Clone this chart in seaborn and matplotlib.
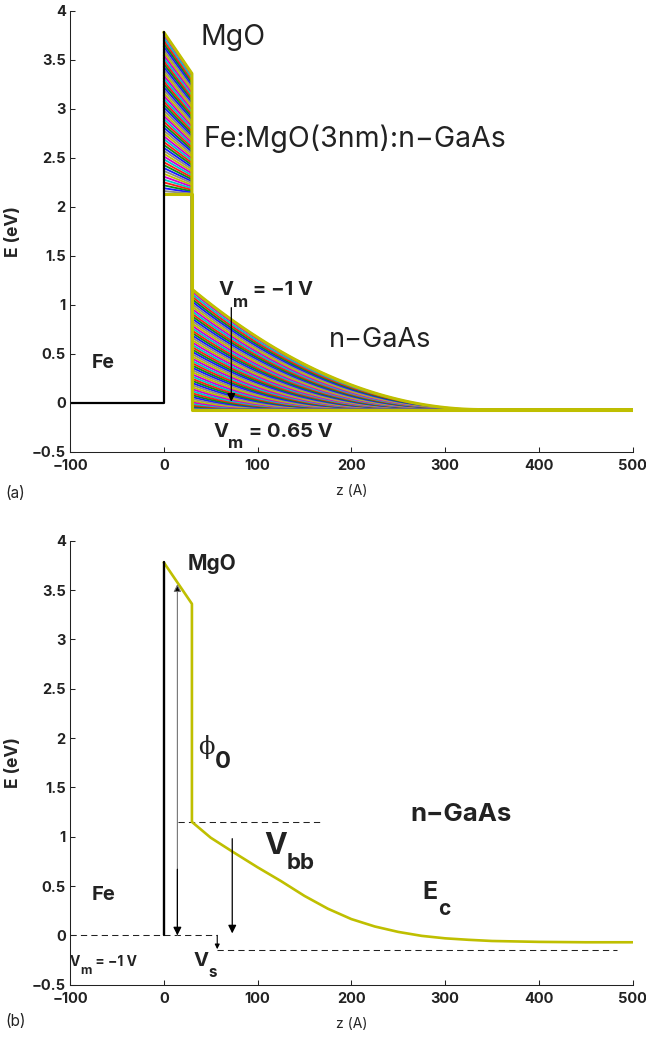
import numpy as np
import pandas as pd
import matplotlib
matplotlib.use("Agg")
import matplotlib.pyplot as plt
import seaborn as sns
from matplotlib import transforms
from matplotlib.ticker import FixedLocator, FuncFormatter

# ---------------- data ----------------
# bias values of the family of band profiles, panel (a)
bias_vm = [-1.000, -0.971, -0.941, -0.912, -0.882, -0.853, -0.823, -0.794,
           -0.764, -0.735, -0.705, -0.676, -0.646, -0.617, -0.588, -0.558,
           -0.529, -0.499, -0.470, -0.440, -0.411, -0.381, -0.352, -0.322,
           -0.293, -0.263, -0.234, -0.204, -0.175, -0.146, -0.116, -0.087,
           -0.057, -0.028, 0.002, 0.031, 0.061, 0.090, 0.120, 0.149,
           0.179, 0.208, 0.238, 0.267, 0.296, 0.326, 0.355, 0.385,
           0.414, 0.444, 0.473, 0.503, 0.532, 0.562, 0.591, 0.621, 0.650]
family_colors = ["#bfbf00", "#d000d0", "#00c8c8", "#ff1a1a", "#109010", "#1a1aff", "#8a8a8a"]

# band parameters of the Fe / MgO(3 nm) / n-GaAs structure
mgo_thickness = 30.0       # Å
mgo_top_ref = 3.78         # MgO barrier top at z = 0 for Vm = -1 V
mgo_drop_coef = 0.38       # voltage drop in MgO per sqrt(V_bb)
cb_offset = 2.20           # MgO / GaAs conduction band offset
ec_bulk = -0.07            # bulk GaAs conduction band edge
depl_width_ref = 310.0     # depletion width (Å) at V_bb = vbb_ref
vbb_ref = 1.23

# Fe Fermi level and interface
fe_a_z = [-100, 0, 0]
fe_a_E = [0.0, 0.0, 3.78]
fe_b_z = [0, 0]
fe_b_E = [0.0, 3.78]

# panel (b): conduction band for Vm = -1 V
ec_z = [0, 30, 30, 50, 73, 100, 125, 150, 175, 200, 225, 250, 275, 300, 325, 350, 400, 450, 500]
ec_E = [3.78, 3.36, 1.15, 0.99, 0.85, 0.69, 0.55, 0.40, 0.27, 0.165, 0.09, 0.035, -0.005,
        -0.03, -0.045, -0.057, -0.066, -0.07, -0.07]

# dashed guide lines of panel (b)
dash_fermi_z, dash_fermi_E = [-100, 57], [0.0, 0.0]
dash_bb_z, dash_bb_E = [15, 170], [1.15, 1.15]
dash_s_z, dash_s_E = [57, 483], [-0.15, -0.15]

x_ticks = [-100, 0, 100, 200, 300, 400, 500]
y_ticks = [-0.5, 0, 0.5, 1, 1.5, 2, 2.5, 3, 3.5, 4]

# ---------------- build panel (a) curves ----------------
gaas_z = np.arange(mgo_thickness, 500.1, 5.0)
rows = []
for i, vm in enumerate(bias_vm):
    e0 = mgo_top_ref - (vm - bias_vm[0])
    a = max(e0 - cb_offset - ec_bulk, 0.0)
    x = (-mgo_drop_coef + np.sqrt(mgo_drop_coef ** 2 + 4 * a)) / 2
    vbb = x ** 2
    e30 = e0 - mgo_drop_coef * x
    w = depl_width_ref * np.sqrt(vbb / vbb_ref)
    if w > 1e-9:
        u = np.clip((gaas_z - mgo_thickness) / w, 0, 1)
        prof = ec_bulk + vbb * (1 - u) ** 2
    else:
        prof = np.full_like(gaas_z, ec_bulk)
    zs = [0.0, mgo_thickness] + list(gaas_z)
    es = [e0, e30] + list(prof)
    for k, (zz, ee) in enumerate(zip(zs, es)):
        rows.append({"curve": i, "order": k, "z": zz, "E": ee})
df = pd.DataFrame(rows)
palette = {i: family_colors[i % len(family_colors)] for i in range(len(bias_vm))}

# ---------------- style ----------------
SANS = ["Inter", "Liberation Sans", "DejaVu Sans"]
sns.set_theme(style="ticks")
plt.rcParams["font.family"] = SANS
plt.rcParams["axes.linewidth"] = 0.75
plt.rcParams["axes.edgecolor"] = "#222222"
plt.rcParams["text.color"] = "#222222"

fig = plt.figure(figsize=(6.46, 10.38), dpi=100)
ax1 = fig.add_axes([70 / 646, 1 - 451.7 / 1038, 562.7 / 646, 441.0 / 1038])
ax2 = fig.add_axes([70 / 646, 1 - 984.7 / 1038, 562.7 / 646, 444.0 / 1038])
renderer = fig.canvas.get_renderer()

YEL = "#bfbf00"


def style_axes(ax):
    ax.set_xlim(-100, 500)
    ax.set_ylim(-0.5, 4)
    sns.despine(ax=ax)
    ax.xaxis.set_major_locator(FixedLocator(x_ticks))
    ax.yaxis.set_major_locator(FixedLocator(y_ticks))
    fmt = FuncFormatter(lambda v, p: f"{v:g}".replace("-", "\u2212"))
    ax.xaxis.set_major_formatter(fmt)
    ax.yaxis.set_major_formatter(fmt)
    ax.tick_params(direction="in", length=3.5, width=0.75, colors="#222222",
                   labelsize=10.5)
    ax.tick_params(axis="x", pad=5)
    ax.tick_params(axis="y", pad=3)
    for lab in ax.get_xticklabels() + ax.get_yticklabels():
        lab.set_fontweight("bold")
    ax.set_xlabel("z (A)", fontsize=10, labelpad=8)
    ax.set_ylabel("E (eV)", fontsize=12.5, fontweight="bold", labelpad=7)
    ax.set_facecolor("white")


def rich_text(ax, x, y, parts):
    """parts: (text, size, dy_pts, weight, family)"""
    off = 0.0
    for text, size, dy, weight, family in parts:
        tr = transforms.offset_copy(ax.transData, fig=fig, x=off / fig.dpi,
                                    y=dy / 72.0, units="inches")
        t = ax.text(x, y, text, transform=tr, fontsize=size, fontweight=weight,
                    family=family, ha="left", va="baseline", color="#222222")
        off += t.get_window_extent(renderer).width


# ---------------- panel (a) ----------------
sns.lineplot(data=df, x="z", y="E", hue="curve", palette=palette, sort=False,
             estimator=None, legend=False, linewidth=1.35, ax=ax1)
edge = df[df["curve"].isin([0, len(bias_vm) - 1])]
sns.lineplot(data=edge, x="z", y="E", hue="curve",
             palette={0: YEL, len(bias_vm) - 1: YEL}, sort=False,
             estimator=None, legend=False, linewidth=2.2, ax=ax1)
sns.lineplot(x=fe_a_z, y=fe_a_E, color="black", sort=False, estimator=None,
             linewidth=1.6, ax=ax1)
ax1.annotate("", xy=(72, 0.01), xytext=(72, 0.97),
             arrowprops=dict(arrowstyle="-|>", color="black", lw=0.9,
                             mutation_scale=12, shrinkA=0, shrinkB=0))
style_axes(ax1)

rich_text(ax1, 39, 3.65, [("MgO", 20.5, 0, "normal", SANS)])
rich_text(ax1, 42.4, 2.61, [("Fe:MgO(3nm):n\u2212GaAs", 20.5, 0, "normal", SANS)])
rich_text(ax1, 176, 0.571, [("n\u2212GaAs", 19.5, 0, "normal", SANS)])
rich_text(ax1, -77, 0.35, [("Fe", 14, 0, "bold", SANS)])
rich_text(ax1, 58, 1.10, [("V", 14.5, 0, "bold", SANS), ("m", 12, -8.4, "bold", SANS),
                          (" = \u22121 V", 14.5, 0, "bold", SANS)])
rich_text(ax1, 53, -0.347, [("V", 14.5, 0, "bold", SANS), ("m", 12, -8.0, "bold", SANS),
                            (" = 0.65 V", 14.5, 0, "bold", SANS)])

# ---------------- panel (b) ----------------
for zz, ee in [(dash_fermi_z, dash_fermi_E), (dash_bb_z, dash_bb_E), (dash_s_z, dash_s_E)]:
    ax2.plot(zz, ee, color="#222222", lw=0.75, dashes=(6, 4))
sns.lineplot(x=ec_z, y=ec_E, color=YEL, sort=False, estimator=None,
             linewidth=1.9, ax=ax2)
sns.lineplot(x=fe_b_z, y=fe_b_E, color="black", sort=False, estimator=None,
             linewidth=1.7, ax=ax2)

ax2.annotate("", xy=(14.5, 3.56), xytext=(14.5, 0.0),
             arrowprops=dict(arrowstyle="-|>", ec="0.45", fc="black", lw=0.8,
                             mutation_scale=11, shrinkA=0, shrinkB=0))
ax2.annotate("", xy=(14.5, 0.0), xytext=(14.5, 0.67),
             arrowprops=dict(arrowstyle="-|>", color="black", lw=0.9,
                             mutation_scale=12, shrinkA=0, shrinkB=0))
ax2.annotate("", xy=(73, 0.02), xytext=(73, 0.98),
             arrowprops=dict(arrowstyle="-|>", color="black", lw=0.9,
                             mutation_scale=12, shrinkA=0, shrinkB=0))
ax2.annotate("", xy=(57, -0.14), xytext=(57, 0.0),
             arrowprops=dict(arrowstyle="-|>", color="black", lw=0.8,
                             mutation_scale=7, shrinkA=0, shrinkB=0))
style_axes(ax2)

rich_text(ax2, 25.3, 3.70, [("MgO", 15, 0, "bold", SANS)])
rich_text(ax2, 37, 1.84, [("\u03d5", 17.5, 0, "normal", ["DejaVu Serif"]),
                          ("0", 17, -10, "bold", SANS)])
rich_text(ax2, 107, 0.82, [("V", 22, 0, "bold", SANS), ("bb", 16, -10.8, "bold", SANS)])
rich_text(ax2, 263, 1.157, [("n\u2212GaAs", 18.5, 0, "bold", SANS)])
rich_text(ax2, 276, 0.364, [("E", 18, 0, "bold", SANS), ("c", 15, -11.5, "bold", SANS)])
rich_text(ax2, -77, 0.357, [("Fe", 14.5, 0, "bold", SANS)])
rich_text(ax2, -100, -0.31, [("V", 10, 0, "bold", SANS), ("m", 9, -5.8, "bold", SANS),
                             (" = \u22121 V", 10, 0, "bold", SANS)])
rich_text(ax2, 32, -0.31, [("V", 14.5, 0, "bold", SANS), ("s", 11, -7.7, "bold", SANS)])

fig.text(5 / 646, 1 - 493 / 1038, "(a)", fontsize=11, ha="left", va="center")
fig.text(5 / 646, 1 - 1022 / 1038, "(b)", fontsize=11, ha="left", va="center")

fig.savefig("out.png", dpi=100, facecolor="white")
